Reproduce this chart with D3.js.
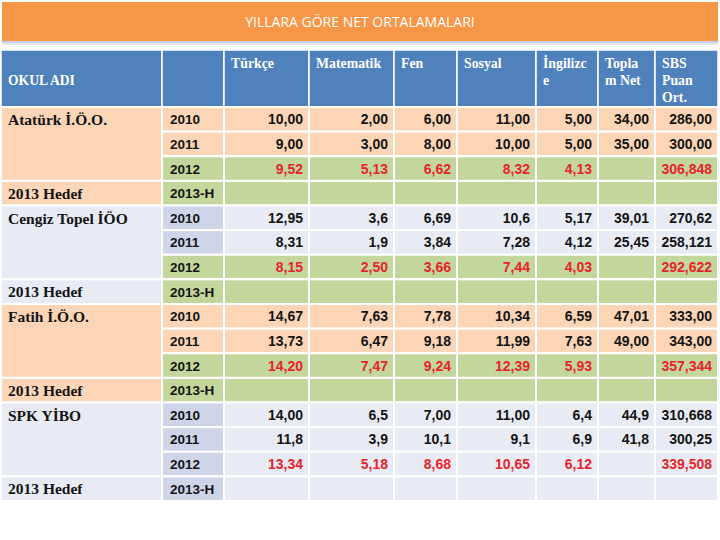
<!DOCTYPE html>
<html>
<head>
<meta charset="utf-8">
<script src="https://cdn.jsdelivr.net/npm/d3@7"></script>
<style>
  body { margin: 0; background: #ffffff; }
  svg { display: block; }
</style>
</head>
<body>
<svg id="chart" width="720" height="540"></svg>
<script>
// ---------------- DATA ----------------
const title = "YILLARA GÖRE NET ORTALAMALARI";
const headerFirst = "OKUL ADI";
const subjects = [["Türkçe"], ["Matematik"], ["Fen"], ["Sosyal"], ["İngilizc", "e"], ["Topla", "m Net"], ["SBS", "Puan", "Ort."]];
const schools = ["Atatürk İ.Ö.O.", "Cengiz Topel İÖO", "Fatih İ.Ö.O.", "SPK YİBO"];
const targetLabel = "2013 Hedef";
const years = ["2010", "2011", "2012", "2013-H"];

const ataturk = [
  ["10,00", "2,00", "6,00", "11,00", "5,00", "34,00", "286,00"],
  ["9,00", "3,00", "8,00", "10,00", "5,00", "35,00", "300,00"],
  ["9,52", "5,13", "6,62", "8,32", "4,13", "", "306,848"],
  ["", "", "", "", "", "", ""]
];
const cengiz = [
  ["12,95", "3,6", "6,69", "10,6", "5,17", "39,01", "270,62"],
  ["8,31", "1,9", "3,84", "7,28", "4,12", "25,45", "258,121"],
  ["8,15", "2,50", "3,66", "7,44", "4,03", "", "292,622"],
  ["", "", "", "", "", "", ""]
];
const fatih = [
  ["14,67", "7,63", "7,78", "10,34", "6,59", "47,01", "333,00"],
  ["13,73", "6,47", "9,18", "11,99", "7,63", "49,00", "343,00"],
  ["14,20", "7,47", "9,24", "12,39", "5,93", "", "357,344"],
  ["", "", "", "", "", "", ""]
];
const spk = [
  ["14,00", "6,5", "7,00", "11,00", "6,4", "44,9", "310,668"],
  ["11,8", "3,9", "10,1", "9,1", "6,9", "41,8", "300,25"],
  ["13,34", "5,18", "8,68", "10,65", "6,12", "", "339,508"],
  ["", "", "", "", "", "", ""]
];
const schoolValues = [ataturk, cengiz, fatih, spk];

// ---------------- STYLE / LAYOUT ----------------
const C = {
  orange: "#F79646", blue: "#4F81BD", peach: "#FBD5B6", green: "#C3D69B",
  lav: "#E8EBF3", lavYear: "#CFD5E8", red: "#E6242A", black: "#141414", white: "#ffffff"
};
const colEdges = [1, 162, 224, 309, 394, 457, 536, 598, 655, 718];
const blockStyle = [
  { base: C.peach, year: C.peach, hi: C.green },
  { base: C.lav, year: C.lavYear, hi: C.green },
  { base: C.peach, year: C.peach, hi: C.green },
  { base: C.lav, year: C.lavYear, hi: null }
];

const svg = d3.select("#chart");
const nRows = schools.length * years.length;
const y = d3.scaleBand().domain(d3.range(nRows)).range([107, 501]).paddingInner(0).paddingOuter(0);
const colX = i => colEdges[i];
const colW = i => colEdges[i + 1] - colEdges[i];

// Title bar
svg.append("rect").attr("x", 2).attr("y", 2).attr("width", 716).attr("height", 39).attr("fill", C.orange);
svg.append("rect").attr("x", 2).attr("y", 41).attr("width", 716).attr("height", 2.5).attr("fill", "#C9D1DE");
svg.append("rect").attr("x", 2).attr("y", 43.5).attr("width", 716).attr("height", 1.5).attr("fill", "#E3EAF4");
svg.append("text").attr("x", 360).attr("y", 27).attr("text-anchor", "middle")
  .attr("font-family", "'Open Sans', sans-serif").attr("font-size", 14).attr("fill", C.white)
  .text(title);

// Header
const hdr = svg.append("g");
d3.range(colEdges.length - 1).forEach(i => {
  hdr.append("rect").attr("x", colX(i)).attr("y", 50).attr("width", colW(i)).attr("height", 57)
    .attr("fill", C.blue).attr("stroke", C.white).attr("stroke-width", 1.5);
});
hdr.append("text").attr("x", 8).attr("y", 85)
  .attr("font-family", "'Liberation Serif', 'Times New Roman', serif").attr("font-weight", "bold")
  .attr("font-size", 13.6).attr("fill", C.white).text(headerFirst);
subjects.forEach((lines, j) => {
  const t = hdr.append("text").attr("x", colX(j + 2) + 7).attr("y", 68)
    .attr("font-family", "'Liberation Serif', 'Times New Roman', serif").attr("font-weight", "bold")
    .attr("font-size", 13.8).attr("fill", C.white);
  lines.forEach((ln, k) => t.append("tspan").attr("x", colX(j + 2) + 7).attr("dy", k === 0 ? 0 : 16.8).text(ln));
});

// Body
const body = svg.append("g");
schools.forEach((name, b) => {
  const st = blockStyle[b];
  const r0 = b * years.length;
  body.append("rect").attr("x", colX(0)).attr("y", y(r0)).attr("width", colW(0)).attr("height", y.bandwidth() * 3)
    .attr("fill", st.base).attr("stroke", C.white).attr("stroke-width", 2);
  body.append("text").attr("x", 8).attr("y", y(r0) + 18)
    .attr("font-family", "'Liberation Serif', 'Times New Roman', serif").attr("font-weight", "bold")
    .attr("font-size", 15.5).attr("fill", C.black).text(name);
  body.append("rect").attr("x", colX(0)).attr("y", y(r0 + 3)).attr("width", colW(0)).attr("height", y.bandwidth())
    .attr("fill", st.base).attr("stroke", C.white).attr("stroke-width", 2);
  body.append("text").attr("x", 8).attr("y", y(r0 + 3) + y.bandwidth() / 2 + 5.5)
    .attr("font-family", "'Liberation Serif', 'Times New Roman', serif").attr("font-weight", "bold")
    .attr("font-size", 15.5).attr("fill", C.black).text(targetLabel);

  years.forEach((yr, k) => {
    const r = r0 + k;
    const hiRow = k >= 2 && st.hi;
    const yFill = hiRow ? st.hi : st.year;
    const dFill = hiRow ? st.hi : st.base;
    body.append("rect").attr("x", colX(1)).attr("y", y(r)).attr("width", colW(1)).attr("height", y.bandwidth())
      .attr("fill", yFill).attr("stroke", C.white).attr("stroke-width", 2);
    body.append("text").attr("x", colX(1) + 8).attr("y", y(r) + y.bandwidth() / 2 + 5)
      .attr("font-family", "'Liberation Sans', Arial, sans-serif").attr("font-weight", "bold")
      .attr("font-size", 13.5).attr("fill", C.black).text(yr);
    schoolValues[b][k].forEach((v, j) => {
      const ci = j + 2;
      body.append("rect").attr("x", colX(ci)).attr("y", y(r)).attr("width", colW(ci)).attr("height", y.bandwidth())
        .attr("fill", dFill).attr("stroke", C.white).attr("stroke-width", 2);
      if (v !== "") {
        body.append("text").attr("x", colX(ci + 1) - 6).attr("y", y(r) + y.bandwidth() / 2 + 5)
          .attr("text-anchor", "end")
          .attr("font-family", "'Liberation Sans', Arial, sans-serif").attr("font-weight", "bold")
          .attr("font-size", 14).attr("fill", k === 2 ? C.red : C.black).text(v);
      }
    });
  });
});
</script>
</body>
</html>
